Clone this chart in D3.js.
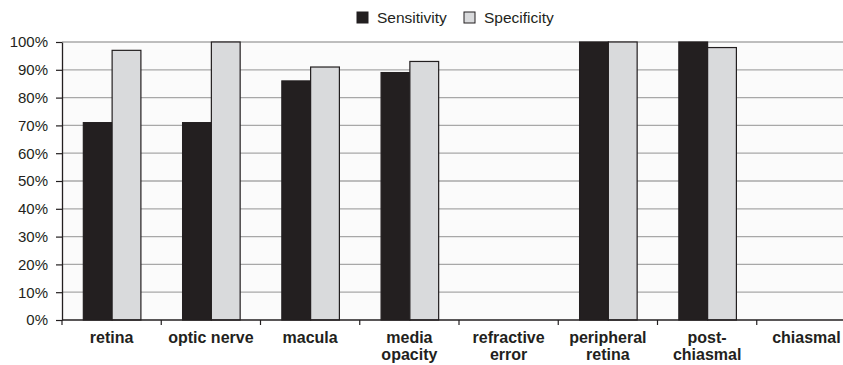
<!DOCTYPE html>
<html lang="en">
<head>
    <meta charset="utf-8">
    <title>Sensitivity and specificity</title>
    <script src="https://d3js.org/d3.v7.min.js"></script>
    <style>
        body { margin: 0; background: #fff; }
        text { font-family: "Liberation Sans", Arial, sans-serif; fill: #231f20; }
    </style>
</head>
<body>
<div id="chart"></div>
<script>
    // Data
    const categories = ["retina", "optic nerve", "macula", "media opacity",
        "refractive error", "peripheral retina", "post-chiasmal", "chiasmal"];
    const categoryLines = [["retina"], ["optic nerve"], ["macula"], ["media", "opacity"],
        ["refractive", "error"], ["peripheral", "retina"], ["post-", "chiasmal"], ["chiasmal"]];
    const seriesNames = ["Sensitivity", "Specificity"];
    const sensitivity = [71, 71, 86, 89, 0, 100, 100, 0];
    const specificity = [97, 100, 91, 93, 0, 100, 98, 0];
    const yTicks = [0, 10, 20, 30, 40, 50, 60, 70, 80, 90, 100];
    const colors = ["#231f20", "#d9dadc"];

    // Plot box (the last category runs past the right edge, as in the original)
    const W = 843, H = 365;
    const plot = {x0: 62, x1: 856, y0: 42, y1: 320};

    const svg = d3.select("#chart").append("svg")
        .attr("width", W).attr("height", H);

    const x = d3.scaleBand().domain(categories).range([plot.x0, plot.x1]).padding(0);
    const xs = d3.scaleBand().domain(seriesNames)
        .range([x.bandwidth() * 0.215, x.bandwidth() * 0.795]).padding(0);
    const y = d3.scaleLinear().domain([0, 100]).range([plot.y1, plot.y0]);

    // plot background
    svg.append("rect")
        .attr("x", plot.x0).attr("y", plot.y0)
        .attr("width", W - plot.x0).attr("height", plot.y1 - plot.y0)
        .attr("fill", "#fbfbfb");

    // gridlines
    svg.append("g")
        .selectAll("line")
        .data(yTicks.filter(d => d > 0))
        .join("line")
        .attr("x1", plot.x0).attr("x2", W)
        .attr("y1", d => y(d)).attr("y2", d => y(d))
        .attr("stroke", "#a8a8a8")
        .attr("stroke-width", 1.3);

    // bars
    const rows = categories.map((c, i) => ({cat: c, values: [sensitivity[i], specificity[i]]}));
    svg.append("g")
        .selectAll("g")
        .data(rows)
        .join("g")
        .attr("transform", d => `translate(${x(d.cat)},0)`)
        .selectAll("rect")
        .data(d => d.values.map((v, j) => ({key: seriesNames[j], v: v, j: j})).filter(e => e.v > 0))
        .join("rect")
        .attr("x", d => xs(d.key))
        .attr("y", d => y(d.v))
        .attr("width", xs.bandwidth())
        .attr("height", d => y(0) - y(d.v))
        .attr("fill", d => colors[d.j])
        .attr("stroke", "#231f20")
        .attr("stroke-width", 1.2);

    // y axis
    const yAxis = svg.append("g")
        .attr("transform", `translate(${plot.x0},0)`)
        .call(d3.axisLeft(y).tickValues(yTicks).tickFormat(d => d + "%")
            .tickSizeInner(6).tickSizeOuter(0).tickPadding(8));
    yAxis.select(".domain").attr("stroke", "#231f20").attr("stroke-width", 1.3);
    yAxis.selectAll(".tick line").attr("stroke", "#231f20").attr("stroke-width", 1.2);
    yAxis.selectAll("text").attr("font-size", 15).attr("fill", "#231f20")
        .attr("font-family", "Liberation Sans, Arial, sans-serif");

    // x axis line
    svg.append("line")
        .attr("x1", plot.x0).attr("x2", W)
        .attr("y1", plot.y1).attr("y2", plot.y1)
        .attr("stroke", "#231f20").attr("stroke-width", 1.3);

    // x ticks at category boundaries
    svg.append("g")
        .selectAll("line")
        .data(categories)
        .join("line")
        .attr("x1", d => x(d)).attr("x2", d => x(d))
        .attr("y1", plot.y1).attr("y2", plot.y1 + 5)
        .attr("stroke", "#231f20").attr("stroke-width", 1.2);

    // x labels
    svg.append("g")
        .selectAll("text")
        .data(categories)
        .join("text")
        .attr("x", d => x(d) + x.bandwidth() / 2)
        .attr("y", 343)
        .attr("text-anchor", "middle")
        .attr("font-size", 16)
        .attr("font-weight", "bold")
        .selectAll("tspan")
        .data((d, i) => categoryLines[i])
        .join("tspan")
        .attr("x", function () { return d3.select(this.parentNode).attr("x"); })
        .attr("dy", (d, i) => i === 0 ? 0 : 17)
        .text(d => d);

    // legend
    const legend = svg.append("g");
    const legendX = [357, 464];
    seriesNames.forEach((s, i) => {
        legend.append("rect")
            .attr("x", legendX[i]).attr("y", 12)
            .attr("width", 11).attr("height", 11)
            .attr("fill", colors[i])
            .attr("stroke", "#231f20").attr("stroke-width", 1);
        legend.append("text")
            .attr("x", legendX[i] + 20).attr("y", 23)
            .attr("font-size", 15.5)
            .text(s);
    });
</script>
</body>
</html>
